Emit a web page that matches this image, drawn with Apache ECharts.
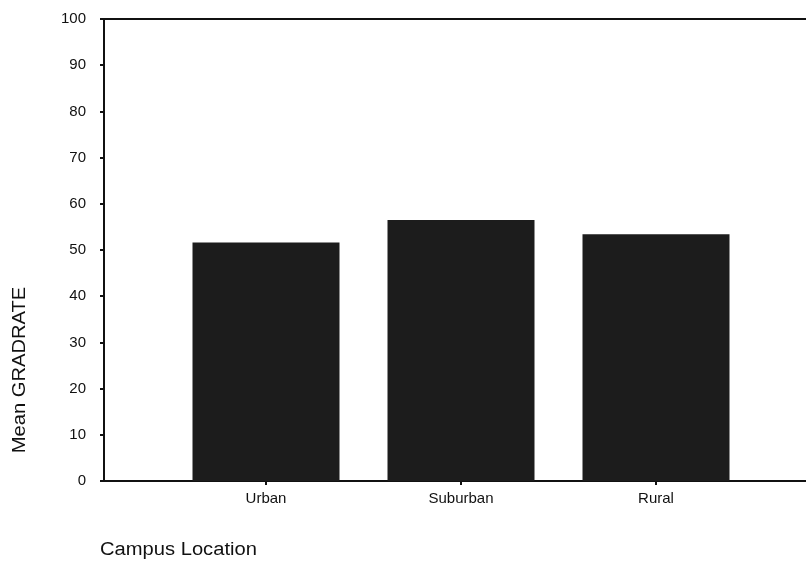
<!DOCTYPE html>
<html><head><meta charset="utf-8">
<script src="https://cdn.jsdelivr.net/npm/echarts@6/dist/echarts.min.js"></script>
<style>html,body{margin:0;padding:0;background:#fff}#c{width:806px;height:562px}</style>
</head><body><div id="c"></div>
<script>
const categories = ['Urban', 'Suburban', 'Rural'];
const meanGradrate = [51.6, 56.5, 53.4];
const yTicks = [0, 10, 20, 30, 40, 50, 60, 70, 80, 90, 100];
const xTitle = 'Campus Location';
const yTitle = 'Mean GRADRATE';

const FONT = '"Liberation Sans", Arial, sans-serif';
const chart = echarts.init(document.getElementById('c'));
chart.setOption({
  animation: false,
  backgroundColor: '#fff',
  grid: [
    {left: 104, top: 19, right: 0, bottom: 81},
    {left: 168.5, width: 585, top: 19, bottom: 81}
  ],
  xAxis: [
    {gridIndex: 0, type: 'value', min: 0, max: 1, position: 'bottom',
     axisLine: {show: true, lineStyle: {color: '#111', width: 2}},
     axisTick: {show: false}, axisLabel: {show: false}, splitLine: {show: false}},
    {gridIndex: 0, type: 'value', min: 0, max: 1, position: 'top',
     axisLine: {show: true, lineStyle: {color: '#111', width: 2}},
     axisTick: {show: false}, axisLabel: {show: false}, splitLine: {show: false}},
    {gridIndex: 1, type: 'category', data: categories, position: 'bottom',
     axisLine: {show: false},
     axisTick: {show: true, alignWithLabel: true, length: 4, lineStyle: {color: '#111', width: 2}},
     axisLabel: {color: '#111', fontFamily: FONT, fontSize: 15, margin: 10}}
  ],
  yAxis: [
    {gridIndex: 0, type: 'value', min: yTicks[0], max: yTicks[yTicks.length - 1], interval: yTicks[1] - yTicks[0],
     axisLine: {show: true, lineStyle: {color: '#111', width: 2}},
     axisTick: {show: true, length: 4, lineStyle: {color: '#111', width: 2}},
     axisLabel: {color: '#111', fontFamily: FONT, fontSize: 15, margin: 18},
     splitLine: {show: false}},
    {gridIndex: 1, type: 'value', min: yTicks[0], max: yTicks[yTicks.length - 1], show: false, splitLine: {show: false}}
  ],
  series: [{
    type: 'bar', xAxisIndex: 2, yAxisIndex: 1, data: meanGradrate, barWidth: 147,
    itemStyle: {color: '#1c1c1c'}
  }],
  graphic: [
    {type: 'text', x: 100, y: 550, scaleX: 1.12, style: {text: xTitle, fill: '#111', font: '18px ' + FONT, textAlign: 'left', textVerticalAlign: 'middle'}},
    {type: 'text', x: 20, y: 370, rotation: Math.PI / 2, scaleX: 1.12, style: {text: yTitle, fill: '#111', font: '18px ' + FONT, textAlign: 'center', textVerticalAlign: 'middle'}}
  ]
});
</script></body></html>
